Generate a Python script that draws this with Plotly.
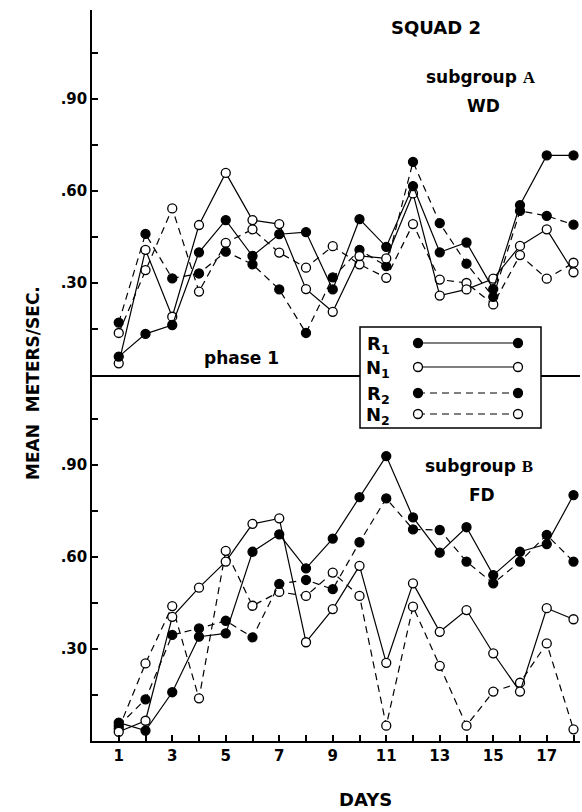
import plotly.graph_objects as go

days = list(range(1, 19))

# Subgroup A (WD) - upper panel
a_R1 = [0.06, 0.134, 0.163, 0.40, 0.505, 0.388, 0.459, 0.466, 0.279, 0.508, 0.418, 0.616, 0.40, 0.432, 0.28, 0.554, 0.716, 0.716]
a_N1 = [0.038, 0.408, 0.19, 0.489, 0.659, 0.505, 0.492, 0.28, 0.206, 0.388, 0.38, 0.592, 0.259, 0.279, 0.314, 0.421, 0.475, 0.335]
a_R2 = [0.171, 0.46, 0.315, 0.331, 0.402, 0.361, 0.279, 0.137, 0.318, 0.408, 0.355, 0.695, 0.495, 0.363, 0.255, 0.535, 0.519, 0.49]
a_N2 = [0.137, 0.342, 0.543, 0.272, 0.431, 0.475, 0.399, 0.35, 0.42, 0.361, 0.317, 0.492, 0.311, 0.30, 0.23, 0.391, 0.314, 0.366]

# Subgroup B (FD) - lower panel
b_R1 = [0.06, 0.034, 0.159, 0.34, 0.351, 0.617, 0.674, 0.563, 0.66, 0.795, 0.929, 0.729, 0.614, 0.697, 0.541, 0.617, 0.642, 0.802]
b_N1 = [0.03, 0.066, 0.405, 0.50, 0.585, 0.708, 0.726, 0.322, 0.43, 0.571, 0.255, 0.514, 0.356, 0.427, 0.286, 0.161, 0.433, 0.397]
b_R2 = [0.05, 0.136, 0.346, 0.367, 0.392, 0.338, 0.512, 0.525, 0.495, 0.648, 0.791, 0.69, 0.688, 0.585, 0.514, 0.585, 0.672, 0.585]
b_N2 = [0.04, 0.253, 0.44, 0.139, 0.62, 0.441, 0.486, 0.473, 0.549, 0.473, 0.05, 0.438, 0.245, 0.05, 0.161, 0.19, 0.318, 0.038]

y_tickvals = [0.30, 0.60, 0.90]
y_ticktext = [".30", ".60", ".90"]
y_minorvals = [0.15, 0.45, 0.75, 1.05]
x_tickvals = [d for d in days if d % 2 == 1]
x_ticktext = [str(d) for d in x_tickvals]
x_minorvals = [d for d in days if d % 2 == 0]

series_style = {
    "R1": dict(dash="solid", fill="black"),
    "N1": dict(dash="solid", fill="white"),
    "R2": dict(dash="7px,5px", fill="black"),
    "N2": dict(dash="7px,5px", fill="white"),
}

W, H = 582, 812
ML, MR, MT, MB = 92, 2, 10, 71
PW, PH = W - ML - MR, H - MT - MB
SPLIT = (741 - 375) / PH

FONT = "DejaVu Sans"


def px(x):
    return (x - ML) / PW


def py(y):
    return (H - MB - y) / PH


fig = go.Figure()

for data, yref, xref in ((dict(R1=b_R1, N1=b_N1, R2=b_R2, N2=b_N2), "y", "x"),
                         (dict(R1=a_R1, N1=a_N1, R2=a_R2, N2=a_N2), "y2", "x2")):
    for name in ("N2", "R2", "N1", "R1"):
        st = series_style[name]
        fig.add_trace(go.Scatter(
            x=days, y=data[name], mode="lines+markers", yaxis=yref, xaxis=xref,
            line=dict(color="black", width=1.2, dash=st["dash"]),
            marker=dict(symbol="circle", size=9, color=st["fill"], line=dict(color="black", width=1.3)),
            showlegend=False, cliponaxis=False, name=name,
        ))

axis_common = dict(showgrid=False, zeroline=False, showline=True, linecolor="black", linewidth=1.5)
tickfont = dict(family=FONT, size=15, color="black", weight="bold")
minor_common = dict(ticks="inside", ticklen=6, tickwidth=1.5, tickcolor="black", showgrid=False)

fig.update_layout(
    width=W, height=H,
    margin=dict(l=ML, r=MR, t=MT, b=MB),
    paper_bgcolor="white", plot_bgcolor="white",
    font=dict(family=FONT, color="black"),
    xaxis=dict(domain=[0, 1], range=[0, PW / 26.75], anchor="y", tickvals=x_tickvals, ticktext=x_ticktext,
               ticks="inside", ticklen=6, tickwidth=1.5, tickcolor="black", tickfont=tickfont,
               minor=dict(tickvals=x_minorvals, **minor_common), **axis_common),
    xaxis2=dict(domain=[0, 1], range=[0, PW / 26.75], anchor="y2", matches="x",
                showticklabels=False, ticks="", **axis_common),
    yaxis=dict(domain=[0, SPLIT], range=[0, (741 - 375) / 306.7], anchor="x",
               tickvals=y_tickvals, ticktext=y_ticktext, ticks="inside", ticklen=6, tickwidth=1.5,
               tickcolor="black", tickfont=tickfont,
               minor=dict(tickvals=y_minorvals, **minor_common), **axis_common),
    yaxis2=dict(domain=[SPLIT, 1], range=[0, (375 - MT) / 306.7], anchor="x2",
                tickvals=y_tickvals, ticktext=y_ticktext, ticks="inside", ticklen=6, tickwidth=1.5,
                tickcolor="black", tickfont=tickfont,
                minor=dict(tickvals=y_minorvals, **minor_common), **axis_common),
)

# Legend box (custom)
shapes = []
shapes.append(dict(type="rect", xref="paper", yref="paper",
                   x0=px(360), x1=px(541), y0=py(428), y1=py(327),
                   fillcolor="white", line=dict(color="black", width=1.5), layer="above"))
leg_rows = [("R1", 343), ("N1", 367), ("R2", 393), ("N2", 414)]
for name, yy in leg_rows:
    st = series_style[name]
    shapes.append(dict(type="line", xref="paper", yref="paper", x0=px(418), x1=px(518),
                       y0=py(yy), y1=py(yy), line=dict(color="black", width=1.2, dash=st["dash"]),
                       layer="above"))
    for cx in (418, 518):
        shapes.append(dict(type="circle", xref="paper", yref="paper",
                           x0=px(cx - 4.5), x1=px(cx + 4.5), y0=py(yy + 4.5), y1=py(yy - 4.5),
                           fillcolor=st["fill"], line=dict(color="black", width=1.3), layer="above"))
fig.update_layout(shapes=shapes)

annots = []


def ann(text, x, y, size, **kw):
    d = dict(text=text, x=px(x), y=py(y), xref="paper", yref="paper", showarrow=False,
             font=dict(family=FONT, size=size, color="black", weight="bold"),
             xanchor="center", yanchor="middle")
    d.update(kw)
    annots.append(d)


ann("SQUAD 2", 436, 28, 18)
ann("subgroup <span style='font-family:Liberation Serif'>A</span>", 481, 77, 17)
ann("WD", 483, 106, 17)
ann("phase 1", 241, 358, 17)
ann("subgroup <span style='font-family:Liberation Serif'>B</span>", 479, 466, 17)
ann("FD", 482, 495, 17)
ann("DAYS", 365, 799, 18)
ann("MEAN  METERS/SEC.", 33, 383, 17, textangle=-90)
for name, yy in leg_rows:
    ann(name[0] + "<sub>" + name[1] + "</sub>", 378, yy + 2, 18)
fig.update_layout(annotations=annots)

fig.write_html("out.html", config={"displayModeBar": False},
               post_script="document.body.style.margin='0';document.body.style.padding='0';")
